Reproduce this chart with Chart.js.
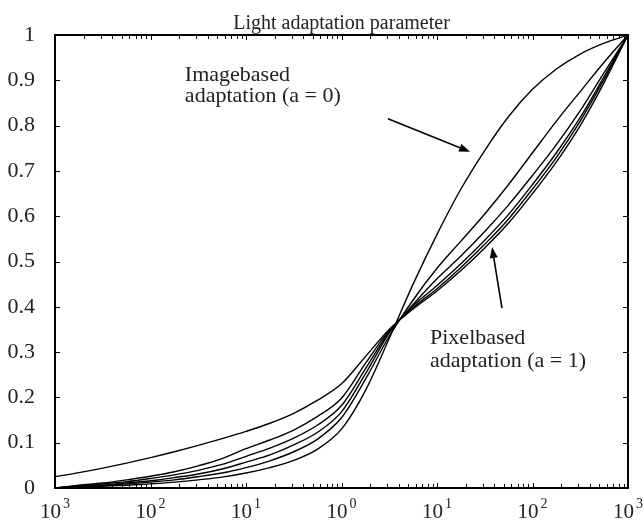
<!DOCTYPE html>
<html>
<head>
<meta charset="utf-8">
<script src="https://cdn.jsdelivr.net/npm/chart.js@4.4.1/dist/chart.umd.min.js"></script>
<style>
  html, body { margin: 0; padding: 0; background: #fff; }
  canvas { display: block; }
</style>
</head>
<body>
<canvas id="adaptChart" width="644" height="522"></canvas>
<script>
// Light adaptation parameter curves, a = 0 (image based) ... a = 1 (pixel based)

const intensity = [0.001, 0.00178, 0.00316, 0.00562, 0.01, 0.0178, 0.0316, 0.0562, 0.1, 0.178, 0.316, 0.562,
                   1, 1.78, 3.16, 5.62, 10, 17.8, 31.6, 56.2, 100, 178, 316, 562, 1000];

const curveA00 = [0, 0.002, 0.004, 0.006, 0.009, 0.013, 0.018, 0.024, 0.033, 0.045, 0.061, 0.086,
                  0.13, 0.215, 0.33, 0.45, 0.56, 0.66, 0.745, 0.82, 0.88, 0.925, 0.958, 0.982, 1];
const curveA02 = [0, 0.003, 0.005, 0.009, 0.013, 0.018, 0.025, 0.033, 0.045, 0.06, 0.08, 0.108,
                  0.155, 0.24, 0.335, 0.415, 0.485, 0.545, 0.605, 0.67, 0.74, 0.81, 0.875, 0.94, 1];
const curveA04 = [0, 0.004, 0.007, 0.011, 0.016, 0.023, 0.031, 0.042, 0.057, 0.073, 0.095, 0.123,
                  0.168, 0.252, 0.342, 0.405, 0.462, 0.512, 0.566, 0.625, 0.69, 0.758, 0.833, 0.917, 1];
const curveA06 = [0, 0.005, 0.009, 0.014, 0.021, 0.029, 0.039, 0.052, 0.07, 0.088, 0.11, 0.139,
                  0.182, 0.263, 0.345, 0.402, 0.447, 0.495, 0.547, 0.604, 0.67, 0.74, 0.818, 0.908, 1];
const curveA08 = [0, 0.006, 0.011, 0.018, 0.026, 0.036, 0.049, 0.065, 0.087, 0.106, 0.128, 0.158,
                  0.198, 0.275, 0.348, 0.398, 0.44, 0.487, 0.538, 0.594, 0.66, 0.73, 0.81, 0.902, 1];
const curveA10 = [0.025, 0.034, 0.044, 0.055, 0.067, 0.08, 0.094, 0.109, 0.125, 0.143, 0.165, 0.194,
                  0.23, 0.29, 0.35, 0.395, 0.435, 0.48, 0.53, 0.585, 0.65, 0.72, 0.80, 0.895, 1];

const allCurves = [curveA00, curveA02, curveA04, curveA06, curveA08, curveA10];

const xTickValues = [0.001, 0.01, 0.1, 1, 10, 100, 1000];
const xTickBase = '10';
const xTickExponents = ['3', '2', '1', '0', '1', '2', '3'];
const yTickLabels = ['0', '0.1', '0.2', '0.3', '0.4', '0.5', '0.6', '0.7', '0.8', '0.9', '1'];

const chartTitle = 'Light adaptation parameter';

// annotation text and arrows, in data coordinates
const notes = [
  { lines: ['Imagebased', 'adaptation (a = 0)'], x: 0.0229, y: [0.899, 0.851] },
  { lines: ['Pixelbased', 'adaptation (a = 1)'], x: 8.45, y: [0.318, 0.268] }
];
const arrows = [
  { from: [3.07, 0.815], to: [22.2, 0.742] },
  { from: [47.9, 0.397], to: [37.7, 0.532] }
];

const serif = '"Liberation Serif", "Times New Roman", serif';

const framePlugin = {
  id: 'frame',
  afterDatasetsDraw(chart) {
    const { ctx, chartArea: ca, scales: { x, y } } = chart;
    ctx.save();
    ctx.strokeStyle = '#000';
    ctx.fillStyle = '#222';

    // inward ticks
    ctx.lineWidth = 1;
    ctx.beginPath();
    for (let n = -3; n <= 3; n++) {
      for (let k = 1; k <= 9; k++) {
        const v = k * Math.pow(10, n);
        if (v > 1000) break;
        const px = Math.round(x.getPixelForValue(v)) + 0.5;
        const len = k === 1 ? 5 : 4;
        ctx.moveTo(px, ca.bottom); ctx.lineTo(px, ca.bottom - len);
        ctx.moveTo(px, ca.top); ctx.lineTo(px, ca.top + len);
      }
    }
    yTickLabels.forEach((lab, i) => {
      const py = Math.round(y.getPixelForValue(i / 10)) + 0.5;
      ctx.moveTo(ca.left, py); ctx.lineTo(ca.left + 5, py);
      ctx.moveTo(ca.right, py); ctx.lineTo(ca.right - 5, py);
    });
    ctx.stroke();

    // frame
    ctx.lineWidth = 2;
    ctx.strokeRect(ca.left, ca.top, ca.right - ca.left, ca.bottom - ca.top);

    // x tick labels 10^n
    xTickValues.forEach((v, i) => {
      const px = x.getPixelForValue(v);
      ctx.font = '21px ' + serif;
      ctx.textAlign = 'right';
      ctx.textBaseline = 'alphabetic';
      ctx.fillText(xTickBase, px + 6, ca.bottom + 30);
      ctx.font = '14px ' + serif;
      ctx.textAlign = 'left';
      ctx.fillText(xTickExponents[i], px + 8, ca.bottom + 20);
    });

    // title
    ctx.font = '20px ' + serif;
    ctx.textAlign = 'center';
    ctx.fillText(chartTitle, (ca.left + ca.right) / 2, ca.top - 6);

    // annotations
    ctx.font = '22px ' + serif;
    ctx.textAlign = 'left';
    notes.forEach(nt => {
      nt.lines.forEach((t, j) => {
        ctx.fillText(t, x.getPixelForValue(nt.x), y.getPixelForValue(nt.y[j]));
      });
    });

    ctx.lineWidth = 1.6;
    ctx.fillStyle = '#000';
    arrows.forEach(ar => {
      const x0 = x.getPixelForValue(ar.from[0]), y0 = y.getPixelForValue(ar.from[1]);
      const x1 = x.getPixelForValue(ar.to[0]), y1 = y.getPixelForValue(ar.to[1]);
      const ang = Math.atan2(y1 - y0, x1 - x0);
      const hl = 11, hw = 4;
      const bx = x1 - hl * Math.cos(ang), by = y1 - hl * Math.sin(ang);
      ctx.beginPath();
      ctx.moveTo(x0, y0); ctx.lineTo(bx, by);
      ctx.stroke();
      ctx.beginPath();
      ctx.moveTo(x1, y1);
      ctx.lineTo(bx + hw * Math.sin(ang), by - hw * Math.cos(ang));
      ctx.lineTo(bx - hw * Math.sin(ang), by + hw * Math.cos(ang));
      ctx.closePath();
      ctx.fill();
    });

    ctx.restore();
  }
};

const ctx = document.getElementById('adaptChart').getContext('2d');
new Chart(ctx, {
  type: 'line',
  data: {
    datasets: allCurves.map(c => ({
      data: intensity.map((v, i) => ({ x: v, y: c[i] })),
      borderColor: '#000',
      borderWidth: 1.4,
      pointRadius: 0,
      fill: false,
      cubicInterpolationMode: 'monotone'
    }))
  },
  options: {
    responsive: false,
    devicePixelRatio: 1,
    animation: false,
    layout: { padding: { top: 35, right: 16, left: 0, bottom: 0 } },
    plugins: {
      legend: { display: false },
      tooltip: { enabled: false },
      title: { display: false }
    },
    scales: {
      x: {
        type: 'logarithmic',
        min: 0.001,
        max: 1000,
        grid: { display: false },
        border: { display: false },
        ticks: { display: false },
        afterFit: s => { s.height = 34; }
      },
      y: {
        min: 0,
        max: 1,
        grid: { display: false },
        border: { display: false },
        afterFit: s => { s.width = 55; },
        ticks: {
          stepSize: 0.1,
          padding: 12,
          color: '#222',
          font: { family: serif, size: 22 },
          callback: (v) => yTickLabels[Math.round(v * 10)]
        }
      }
    }
  },
  plugins: [framePlugin]
});
</script>
</body>
</html>
